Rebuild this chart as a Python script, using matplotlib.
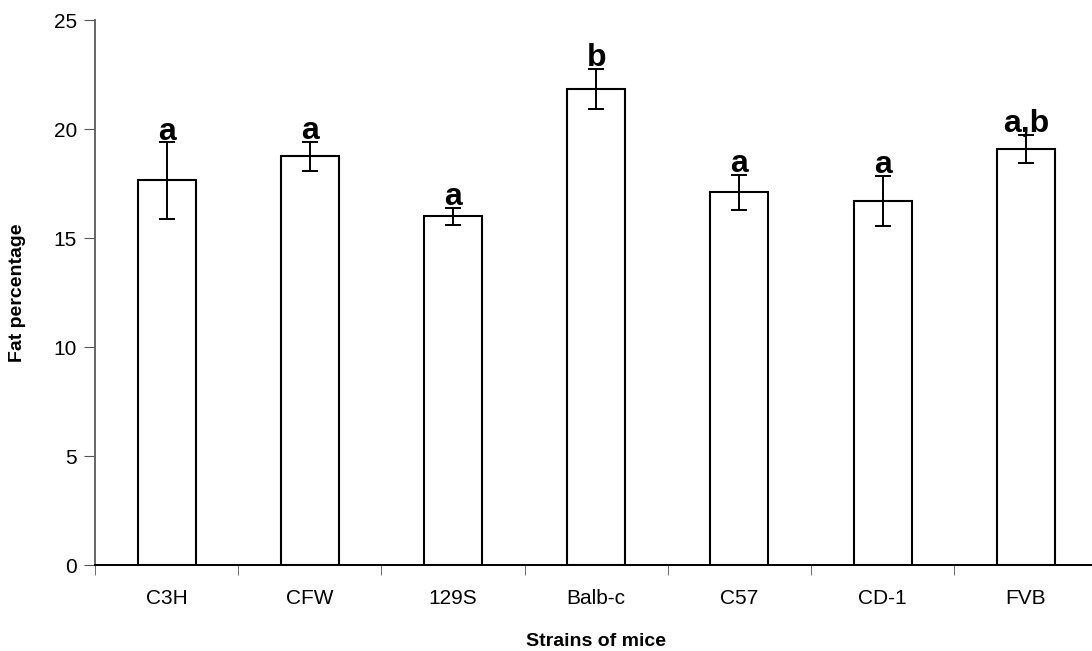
import matplotlib
matplotlib.use("Agg")
import numpy as np
from matplotlib import pyplot as plt
from matplotlib.ticker import FixedLocator

plt.rcParams['font.family'] = ['Liberation Sans', 'DejaVu Sans']

strains = ["C3H", "CFW", "129S", "Balb-c", "C57", "CD-1", "FVB"]
fat_pct = [17.65, 18.75, 16.0, 21.85, 17.1, 16.7, 19.1]
fat_err = [1.75, 0.68, 0.4, 0.92, 0.8, 1.15, 0.65]
groups = ["a", "a", "a", "b", "a", "a", "a,b"]

fig = plt.figure(figsize=(10.92, 6.51), dpi=100)
ax = fig.add_axes([0.087, 0.132, 0.918, 0.837])

x = np.arange(len(strains))
ax.bar(x, fat_pct, width=0.405, color="white", edgecolor="black", linewidth=1.5,
       zorder=2)
ax.errorbar(x, fat_pct, yerr=fat_err, fmt="none", ecolor="black", elinewidth=1.4,
            capsize=5.5, capthick=1.4, zorder=3)

# letters sit just on top of the error bars
for xi, m, e, g in zip(x, fat_pct, fat_err, groups):
    ax.text(xi, m + e + 0.12, g, ha="center", va="baseline", fontsize=23,
            fontweight="bold")

ax.set_xlim(-0.5, len(strains) - 0.5)
ax.set_ylim(0, 25)
ax.set_yticks([0, 5, 10, 15, 20, 25])
ax.set_xticks(x)
ax.set_xticklabels(strains, fontsize=15)
ax.tick_params(axis="x", which="major", length=0, pad=17)
ax.xaxis.set_minor_locator(FixedLocator(np.arange(-0.5, len(strains), 1.0)))
ax.tick_params(axis="x", which="minor", length=7, direction="out", color="#555555")
ax.tick_params(axis="y", length=8, direction="out", labelsize=15, pad=5,
               color="#555555")

ax.spines["top"].set_visible(False)
ax.spines["right"].set_visible(False)
ax.spines["left"].set_color("#666666")
ax.spines["left"].set_linewidth(1.4)
ax.spines["bottom"].set_color("black")
ax.spines["bottom"].set_linewidth(1.4)

ax.set_xlabel("Strains of mice", fontsize=14, fontweight="bold", labelpad=18)
ax.set_ylabel("Fat percentage", fontsize=14, fontweight="bold", labelpad=20)

fig.savefig("out.png", dpi=100)
